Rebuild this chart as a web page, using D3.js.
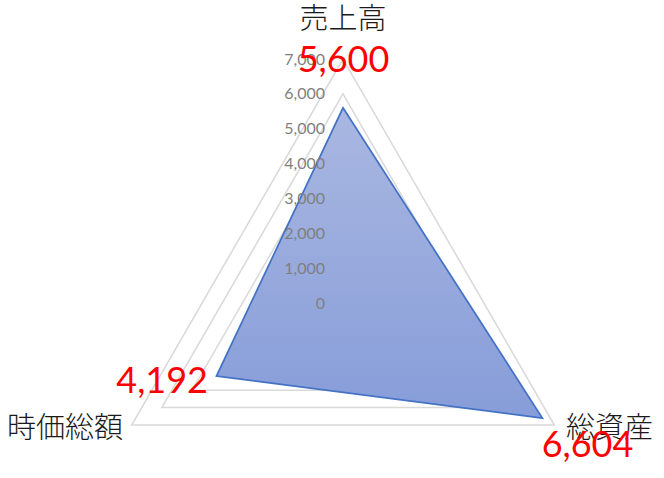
<!DOCTYPE html>
<html><head><meta charset="utf-8">
<script src="https://cdn.jsdelivr.net/npm/d3@7"></script>
<style>body{margin:0;background:#fff}svg{display:block}</style>
</head><body>
<svg id="c" width="664" height="478"></svg>
<script>
const categories = ["売上高", "総資産", "時価総額"];
const values = [5600, 6604, 4192];
const valueLabels = ["5,600", "6,604", "4,192"];
const ticks = [0, 1000, 2000, 3000, 4000, 5000, 6000, 7000];

const svg = d3.select("#c");
const cx = 343, cy = 303, R = 244;
const r = d3.scaleLinear().domain([0, 7000]).range([0, R]);
const ang = i => -Math.PI / 2 + i * 2 * Math.PI / categories.length;
const pt = (i, v) => [cx + r(v) * Math.cos(ang(i)), cy + r(v) * Math.sin(ang(i))];

const defs = svg.append("defs");
const g = defs.append("linearGradient").attr("id", "fillg").attr("x1", 0).attr("y1", 0).attr("x2", 0).attr("y2", 1);
g.append("stop").attr("offset", "0%").attr("stop-color", "#a9b7e1");
g.append("stop").attr("offset", "100%").attr("stop-color", "#879dd9");

// grid
svg.append("g").selectAll("path").data(ticks.slice(1)).join("path")
  .attr("d", t => d3.line()(categories.map((c, i) => pt(i, t))) + "Z")
  .attr("fill", "none").attr("stroke", "#d9d9d9").attr("stroke-width", 1.5);

// data polygon
svg.append("path")
  .attr("d", d3.line()(values.map((v, i) => pt(i, v))) + "Z")
  .attr("fill", "url(#fillg)").attr("stroke", "#4472c4").attr("stroke-width", 1.75)
  .attr("stroke-linejoin", "miter");

// tick labels
const fmt = d3.format(",");
svg.append("g").selectAll("text").data(ticks).join("text")
  .attr("x", cx - 18).attr("y", t => cy - r(t))
  .attr("dy", "0.35em").attr("text-anchor", "end")
  .attr("font-family", "Lato, 'Open Sans', sans-serif").attr("font-size", 16)
  .attr("fill", "#7f7f7f").text(t => fmt(t));

// category labels
const catPos = [
  {x: 343, y: 29, a: "middle"},
  {x: 566, y: 438, a: "start"},
  {x: 123, y: 438, a: "end"}
];
svg.append("g").selectAll("text").data(categories).join("text")
  .attr("x", (d, i) => catPos[i].x).attr("y", (d, i) => catPos[i].y)
  .attr("text-anchor", (d, i) => catPos[i].a)
  .attr("font-family", "'Noto Sans CJK JP', sans-serif").attr("font-size", 29)
  .attr("font-weight", 300)
  .attr("fill", "#1a1a1a").text(d => d);

// value labels
const valPos = [
  {x: 343.5, y: 72, a: "middle"},
  {x: 587.5, y: 457, a: "middle"},
  {x: 208, y: 393, a: "end"}
];
svg.append("g").selectAll("text").data(valueLabels).join("text")
  .attr("x", (d, i) => valPos[i].x).attr("y", (d, i) => valPos[i].y)
  .attr("text-anchor", (d, i) => valPos[i].a)
  .attr("font-family", "Lato, 'Open Sans', sans-serif").attr("font-size", 36)
  .attr("fill", "#ff0000").text(d => d);
</script>
</body></html>
